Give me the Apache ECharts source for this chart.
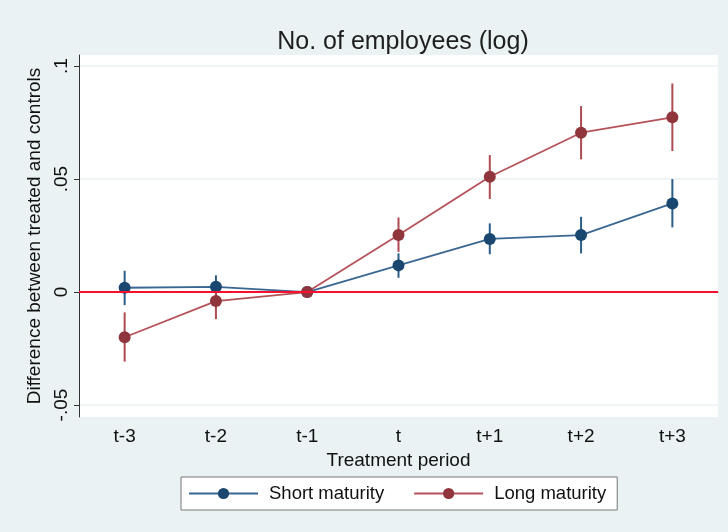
<!DOCTYPE html>
<html>
<head>
<meta charset="utf-8">
<script src="https://cdn.jsdelivr.net/npm/echarts@6/dist/echarts.min.js"></script>
<style>
html, body { margin: 0; padding: 0; background: #eaf2f3; }
#main { width: 728px; height: 532px; }
</style>
</head>
<body>
<div id="main"></div>
<script>
var periods = ['t-3', 't-2', 't-1', 't', 't+1', 't+2', 't+3'];
var shortVal  = [0.0019, 0.0023, 0, 0.0118, 0.0235, 0.0252, 0.0392];
var shortLow  = [-0.0058, -0.003, 0, 0.0063, 0.0167, 0.0171, 0.0286];
var shortHigh = [0.0094, 0.0074, 0, 0.0171, 0.0304, 0.0333, 0.0500];
var longVal   = [-0.0200, -0.0040, 0, 0.0252, 0.0510, 0.0705, 0.0773];
var longLow   = [-0.0308, -0.0120, 0, 0.0178, 0.0412, 0.0587, 0.0624];
var longHigh  = [-0.0090, 0.0040, 0, 0.0330, 0.0606, 0.0823, 0.0923];
var yTicks = [-0.05, 0, 0.05, 0.1];

var blue = '#1a476f', red = '#90353b';

function bars(low, high) {
    return low.map(function (v, i) { return [i, v, high[i]]; });
}

function errorBar(color) {
    return function (params, api) {
        var lo = api.coord([api.value(0), api.value(1)]);
        var hi = api.coord([api.value(0), api.value(2)]);
        return {
            type: 'line',
            shape: { x1: lo[0], y1: lo[1], x2: hi[0], y2: hi[1] },
            style: { stroke: color, lineWidth: 2 }
        };
    };
}

function tickText(v) {
    if (v === 0) return '0';
    var s = String(Math.round(v * 100) / 100);
    return s.replace('0.', '.');
}

var myChart = echarts.init(document.getElementById('main'));
var option = {
    backgroundColor: '#eaf2f3',
    animation: false,
    textStyle: { fontFamily: 'Liberation Sans, Arial, sans-serif' },
    title: {
        text: 'No. of employees (log)',
        left: 398, top: 25, textAlign: 'center',
        textStyle: { fontSize: 25, fontWeight: 'normal', color: '#1e1e1e' }
    },
    grid: {
        left: 79, right: 10, top: 55, bottom: 115,
        show: true, backgroundColor: '#ffffff', borderWidth: 0
    },
    legend: {
        left: 181, top: 477,
        padding: [7, 11, 7, 7],
        itemWidth: 69, itemHeight: 14, itemGap: 29,
        backgroundColor: '#ffffff', borderColor: '#777', borderWidth: 1, borderRadius: 0,
        textStyle: { fontSize: 18.5, color: '#111', padding: [0, 0, 0, 6] },
        data: ['Short maturity', 'Long maturity']
    },
    xAxis: {
        type: 'category',
        data: periods,
        boundaryGap: true,
        name: 'Treatment period',
        nameLocation: 'middle', nameGap: 30,
        nameTextStyle: { fontSize: 19, color: '#111' },
        axisLine: { lineStyle: { color: '#333', width: 1 } },
        axisTick: { alignWithLabel: true, length: 5, lineStyle: { color: '#333' } },
        axisLabel: { fontSize: 19, color: '#111', margin: 10 },
        splitLine: { show: false }
    },
    yAxis: {
        type: 'value',
        min: -0.0553, max: 0.1049,
        name: 'Difference between treated and controls',
        nameLocation: 'middle', nameGap: 32, nameRotate: 90,
        nameTextStyle: { fontSize: 19, color: '#111' },
        axisLine: { show: true, lineStyle: { color: '#333', width: 1 } },
        axisTick: { show: true, length: 5, customValues: yTicks, lineStyle: { color: '#333' } },
        axisLabel: { fontSize: 19, color: '#111', rotate: 90, margin: 8, customValues: yTicks, formatter: tickText },
        splitLine: { show: true, lineStyle: { color: '#eaf2f3', width: 1.5 } }
    },
    series: [
        {
            name: 'Short maturity', type: 'line', data: shortVal, z: 3,
            symbol: 'circle', symbolSize: 12,
            itemStyle: { color: blue },
            lineStyle: { color: '#3a6792', width: 1.8 },
            markLine: {
                silent: true, symbol: 'none', label: { show: false },
                lineStyle: { color: '#f5102e', width: 2, type: 'solid', opacity: 1 },
                data: [{ yAxis: 0 }]
            }
        },
        {
            name: 'Long maturity', type: 'line', data: longVal, z: 4,
            symbol: 'circle', symbolSize: 12,
            itemStyle: { color: red },
            lineStyle: { color: '#b4525a', width: 1.8 }
        },
        {
            name: 'Short maturity', type: 'custom', renderItem: errorBar('#2c5d88'),
            data: bars(shortLow, shortHigh), z: 2, silent: true
        },
        {
            name: 'Long maturity', type: 'custom', renderItem: errorBar('#ad4a52'),
            data: bars(longLow, longHigh), z: 2, silent: true
        }
    ]
};
myChart.setOption(option);
</script>
</body>
</html>
